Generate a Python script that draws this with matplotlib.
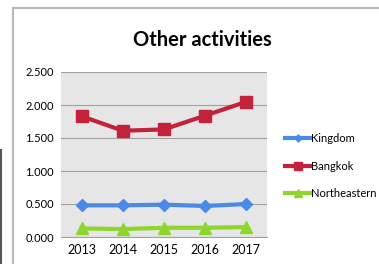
import matplotlib
matplotlib.use("Agg")
import matplotlib.pyplot as plt
from matplotlib.patches import Rectangle
from matplotlib.lines import Line2D

years = ["2013", "2014", "2015", "2016", "2017"]
kingdom = [0.48, 0.48, 0.49, 0.47, 0.50]
bangkok = [1.83, 1.61, 1.63, 1.84, 2.05]
northeastern = [0.13, 0.12, 0.14, 0.14, 0.15]
yticks = [0.0, 0.5, 1.0, 1.5, 2.0, 2.5]

plt.rcParams['font.family'] = ['Lato', 'DejaVu Sans']

W, H = 379, 264
fig = plt.figure(figsize=(W/100, H/100), dpi=100)
fig.patch.set_facecolor('white')

# outer frame
fig.patches.append(Rectangle((13/W, -0.1), 1.0, (H-8)/H + 0.1, transform=fig.transFigure,
                             fill=False, edgecolor='#b8b8b8', linewidth=1.5))
fig.lines.append(Line2D([1/W, 1/W], [0, (H-150)/H], transform=fig.transFigure,
                        color='#555555', linewidth=1.5))

ax = fig.add_axes([61/W, (H-237)/H, 206/W, 165/H])
ax.set_facecolor('#e6e6e6')
x = list(range(len(years)))
ax.plot(x, kingdom, color='#4a8ae6', marker='D', markersize=6, linewidth=3, label='Kingdom', zorder=3)
ax.plot(x, bangkok, color='#c4223a', marker='s', markersize=9, linewidth=3, label='Bangkok', zorder=3)
ax.plot(x, northeastern, color='#8cd62e', marker='^', markersize=9, linewidth=3, label='Northeastern', zorder=3)

ax.set_xlim(-0.5, 4.5)
ax.set_ylim(0, 2.5)
ax.set_yticks(yticks)
ax.set_yticklabels([f"{v:.3f}" for v in yticks], fontsize=8)
ax.set_xticks(x)
ax.set_xticklabels(years, fontsize=9)
ax.tick_params(length=0, pad=5)
ax.grid(axis='y', color='#a0a0a0', linewidth=0.8)
ax.set_axisbelow(True)
for s in ax.spines.values():
    s.set_visible(False)
ax.spines['bottom'].set_visible(True)
ax.spines['bottom'].set_color('#a0a0a0')

fig.text(202/W, (H-40)/H, "Other activities", ha='center', va='center',
         fontsize=14.5, fontweight='bold')

leg = ax.legend(loc='center left', bbox_to_anchor=(1.04, 0.43), frameon=False,
                fontsize=8, handlelength=2.3, handletextpad=0.0, labelspacing=1.5,
                markerscale=0.6)

fig.savefig("out.png", dpi=100)
